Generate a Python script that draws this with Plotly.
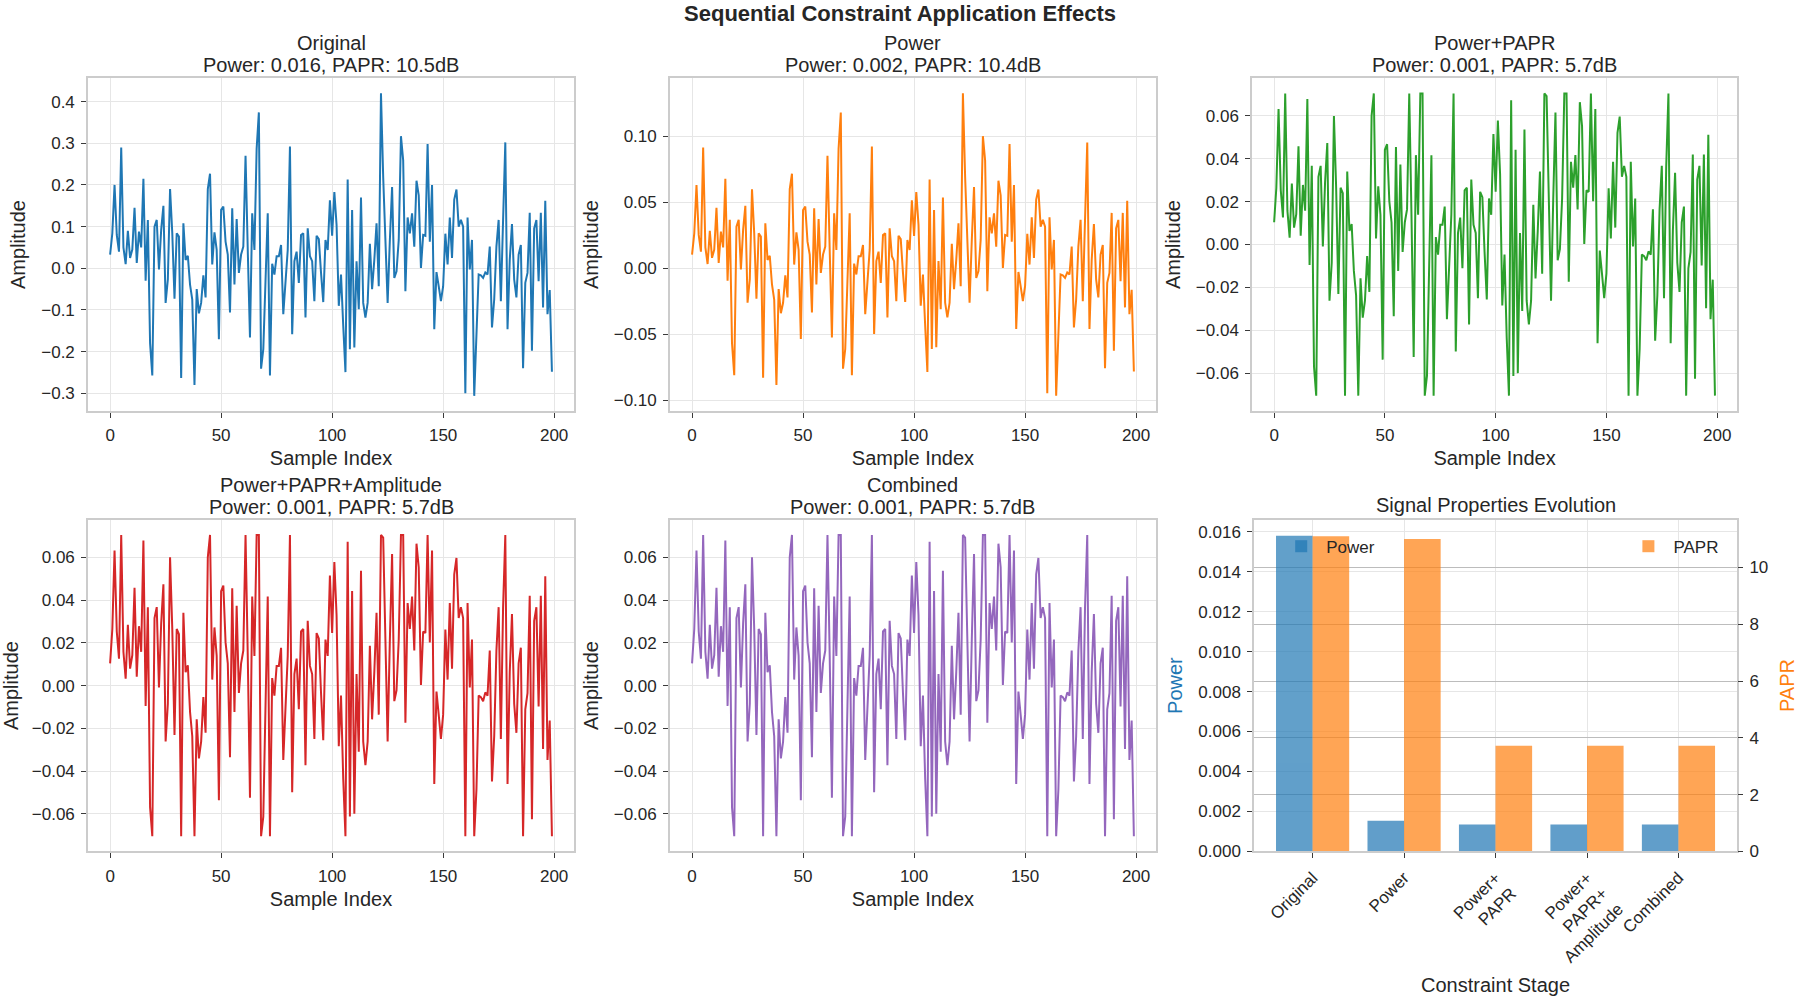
import plotly.graph_objects as go

FONT = "Liberation Sans, Arial, sans-serif"
TXT = "#262626"

# ---------------- data ----------------
sample_index = list(range(200))

original = [
    0.033, 0.084, 0.200, 0.080, 0.040, 0.290, 0.050, 0.010, 0.090, 0.025,
    0.045, 0.145, 0.013, 0.088, 0.050, 0.215, -0.030, 0.116, -0.180, -0.257,
    0.100, 0.116, -0.003, 0.092, 0.150, -0.083, -0.027, 0.190, 0.084, -0.073,
    0.084, 0.076, -0.263, 0.108, 0.020, 0.030, -0.039, -0.075, -0.280, -0.050,
    -0.108, -0.083, -0.017, -0.070, 0.190, 0.227, 0.009, 0.086, 0.044, -0.170,
    0.140, 0.148, 0.064, 0.033, -0.106, 0.144, -0.039, 0.118, -0.011, 0.033,
    0.052, 0.270, 0.044, -0.166, 0.132, 0.044, 0.287, 0.374, -0.241, -0.194,
    -0.030, 0.132, -0.257, 0.011, -0.015, 0.029, 0.029, 0.056, -0.110, -0.043,
    0.044, 0.292, -0.158, 0.017, 0.040, -0.035, 0.080, 0.084, -0.118, 0.096,
    0.029, 0.017, -0.079, 0.078, 0.070, -0.011, -0.081, 0.068, 0.044, 0.163,
    0.078, 0.183, 0.104, -0.090, -0.015, -0.138, -0.249, 0.213, -0.194, 0.140,
    -0.190, 0.017, -0.098, 0.170, -0.083, -0.118, -0.083, 0.059, -0.050, 0.020,
    0.108, -0.043, 0.420, 0.219, 0.068, -0.083, 0.068, 0.195, -0.023, -0.007,
    0.068, 0.317, 0.259, -0.055, 0.122, 0.084, 0.132, 0.052, 0.210, 0.175,
    0.001, 0.080, 0.078, 0.298, 0.064, 0.200, -0.146, -0.009, -0.043, -0.079,
    -0.043, 0.083, 0.009, 0.122, 0.025, 0.165, 0.189, 0.100, 0.116, 0.100,
    -0.300, 0.122, -0.003, 0.068, -0.306, -0.154, -0.015, -0.017, -0.023, -0.010,
    -0.015, 0.052, -0.142, -0.075, 0.052, 0.116, -0.079, 0.116, 0.302, -0.146,
    0.020, 0.106, -0.027, -0.070, 0.033, 0.056, -0.240, -0.035, -0.011, 0.133,
    -0.198, 0.096, 0.116, -0.031, 0.133, -0.094, 0.162, -0.110, -0.052, -0.248,
]

power_only = [
    0.0104, 0.0265, 0.0632, 0.0253, 0.0126, 0.0916, 0.0158, 0.0032, 0.0284, 0.0079,
    0.0142, 0.0458, 0.0041, 0.0278, 0.0158, 0.0679, -0.0095, 0.0367, -0.0569, -0.0812,
    0.0316, 0.0367, -0.0009, 0.0291, 0.0474, -0.0262, -0.0085, 0.0600, 0.0265, -0.0231,
    0.0265, 0.0240, -0.0831, 0.0341, 0.0063, 0.0095, -0.0123, -0.0237, -0.0885, -0.0158,
    -0.0341, -0.0262, -0.0054, -0.0221, 0.0600, 0.0717, 0.0028, 0.0272, 0.0139, -0.0537,
    0.0442, 0.0468, 0.0202, 0.0104, -0.0335, 0.0455, -0.0123, 0.0373, -0.0035, 0.0104,
    0.0164, 0.0853, 0.0139, -0.0525, 0.0417, 0.0139, 0.0907, 0.1182, -0.0762, -0.0613,
    -0.0095, 0.0417, -0.0812, 0.0035, -0.0047, 0.0092, 0.0092, 0.0177, -0.0348, -0.0136,
    0.0139, 0.0923, -0.0499, 0.0054, 0.0126, -0.0111, 0.0253, 0.0265, -0.0373, 0.0303,
    0.0092, 0.0054, -0.0250, 0.0246, 0.0221, -0.0035, -0.0256, 0.0215, 0.0139, 0.0515,
    0.0246, 0.0578, 0.0329, -0.0284, -0.0047, -0.0436, -0.0787, 0.0673, -0.0613, 0.0442,
    -0.0600, 0.0054, -0.0310, 0.0537, -0.0262, -0.0373, -0.0262, 0.0186, -0.0158, 0.0063,
    0.0341, -0.0136, 0.1327, 0.0692, 0.0215, -0.0262, 0.0215, 0.0616, -0.0073, -0.0022,
    0.0215, 0.1002, 0.0818, -0.0174, 0.0386, 0.0265, 0.0417, 0.0164, 0.0664, 0.0553,
    0.0003, 0.0253, 0.0246, 0.0942, 0.0202, 0.0632, -0.0461, -0.0028, -0.0136, -0.0250,
    -0.0136, 0.0262, 0.0028, 0.0386, 0.0079, 0.0521, 0.0597, 0.0316, 0.0367, 0.0316,
    -0.0948, 0.0386, -0.0009, 0.0215, -0.0967, -0.0487, -0.0047, -0.0054, -0.0073, -0.0032,
    -0.0047, 0.0164, -0.0449, -0.0237, 0.0164, 0.0367, -0.0250, 0.0367, 0.0954, -0.0461,
    0.0063, 0.0335, -0.0085, -0.0221, 0.0104, 0.0177, -0.0758, -0.0111, -0.0035, 0.0420,
    -0.0626, 0.0303, 0.0367, -0.0098, 0.0420, -0.0297, 0.0512, -0.0348, -0.0164, -0.0784,
]

constrained = [
    0.0104, 0.0265, 0.0632, 0.0253, 0.0126, 0.0705, 0.0158, 0.0032, 0.0284, 0.0079,
    0.0142, 0.0458, 0.0041, 0.0278, 0.0158, 0.0679, -0.0095, 0.0367, -0.0569, -0.0705,
    0.0316, 0.0367, -0.0009, 0.0291, 0.0474, -0.0262, -0.0085, 0.0600, 0.0265, -0.0231,
    0.0265, 0.0240, -0.0705, 0.0341, 0.0063, 0.0095, -0.0123, -0.0237, -0.0705, -0.0158,
    -0.0341, -0.0262, -0.0054, -0.0221, 0.0600, 0.0705, 0.0028, 0.0272, 0.0139, -0.0537,
    0.0442, 0.0468, 0.0202, 0.0104, -0.0335, 0.0455, -0.0123, 0.0373, -0.0035, 0.0104,
    0.0164, 0.0705, 0.0139, -0.0525, 0.0417, 0.0139, 0.0705, 0.0705, -0.0705, -0.0613,
    -0.0095, 0.0417, -0.0705, 0.0035, -0.0047, 0.0092, 0.0092, 0.0177, -0.0348, -0.0136,
    0.0139, 0.0705, -0.0499, 0.0054, 0.0126, -0.0111, 0.0253, 0.0265, -0.0373, 0.0303,
    0.0092, 0.0054, -0.0250, 0.0246, 0.0221, -0.0035, -0.0256, 0.0215, 0.0139, 0.0515,
    0.0246, 0.0578, 0.0329, -0.0284, -0.0047, -0.0436, -0.0705, 0.0673, -0.0613, 0.0442,
    -0.0600, 0.0054, -0.0310, 0.0537, -0.0262, -0.0373, -0.0262, 0.0186, -0.0158, 0.0063,
    0.0341, -0.0136, 0.0705, 0.0692, 0.0215, -0.0262, 0.0215, 0.0616, -0.0073, -0.0022,
    0.0215, 0.0705, 0.0705, -0.0174, 0.0386, 0.0265, 0.0417, 0.0164, 0.0664, 0.0553,
    0.0003, 0.0253, 0.0246, 0.0705, 0.0202, 0.0632, -0.0461, -0.0028, -0.0136, -0.0250,
    -0.0136, 0.0262, 0.0028, 0.0386, 0.0079, 0.0521, 0.0597, 0.0316, 0.0367, 0.0316,
    -0.0705, 0.0386, -0.0009, 0.0215, -0.0705, -0.0487, -0.0047, -0.0054, -0.0073, -0.0032,
    -0.0047, 0.0164, -0.0449, -0.0237, 0.0164, 0.0367, -0.0250, 0.0367, 0.0705, -0.0461,
    0.0063, 0.0335, -0.0085, -0.0221, 0.0104, 0.0177, -0.0705, -0.0111, -0.0035, 0.0420,
    -0.0626, 0.0303, 0.0367, -0.0098, 0.0420, -0.0297, 0.0512, -0.0348, -0.0164, -0.0705,
]

panel_names = ["Original", "Power", "Power+PAPR", "Power+PAPR+Amplitude", "Combined"]
panel_power = ["0.016", "0.002", "0.001", "0.001", "0.001"]
panel_papr_db = ["10.5", "10.4", "5.7", "5.7", "5.7"]
panel_series = [original, power_only, constrained, constrained, constrained]
panel_colors = ["#1f77b4", "#ff7f0e", "#2ca02c", "#d62728", "#9467bd"]

stage_labels = ["Original", "Power", "Power+<br>PAPR", "Power+<br>PAPR+<br>Amplitude", "Combined"]
stage_power = [0.0158, 0.00154, 0.00135, 0.00135, 0.00135]
stage_papr = [11.1, 11.0, 3.72, 3.72, 3.72]

# ---------------- layout geometry ----------------
col_x = [(0.0489, 0.3189), (0.3722, 0.6422), (0.6956, 0.9650)]
row_y = [(0.585, 0.921), (0.140, 0.475)]
bar_x = (0.6967, 0.9650)
y_ranges = [(-0.342, 0.456), (-0.1082, 0.1442), (-0.0776, 0.0776), (-0.0776, 0.0776), (-0.0776, 0.0776)]
y_dticks = [0.1, 0.05, 0.02, 0.02, 0.02]
y_formats = [".1f", ".2f", ".2f", ".2f", ".2f"]
panel_cells = [(0, 0), (0, 1), (0, 2), (1, 0), (1, 1)]


def base_axis():
    return dict(
        showline=True, mirror=True, linecolor="#cccccc", linewidth=1.6,
        showgrid=True, gridcolor="#e6e6e6", gridwidth=1,
        ticks="outside", ticklen=5, tickwidth=1.3, tickcolor="#3a3a3a",
        tickfont=dict(size=17, color=TXT, family=FONT), zeroline=False,
        ticklabelstandoff=3,
    )


fig = go.Figure()
layout = dict()
annotations = []

for k, (name, pw, pdb, ser, col) in enumerate(
        zip(panel_names, panel_power, panel_papr_db, panel_series, panel_colors)):
    r, c = panel_cells[k]
    idx = k + 1
    xa = "x" if idx == 1 else f"x{idx}"
    ya = "y" if idx == 1 else f"y{idx}"
    fig.add_trace(go.Scatter(x=sample_index, y=ser, mode="lines",
                             line=dict(color=col, width=2), xaxis=xa, yaxis=ya,
                             showlegend=False))
    xax = base_axis()
    xax.update(domain=list(col_x[c]), anchor=ya, range=[-9.95, 208.95],
               tick0=0, dtick=50,
               title=dict(text="Sample Index", font=dict(size=20, color=TXT, family=FONT), standoff=7))
    yax = base_axis()
    yax.update(domain=list(row_y[r]), anchor=xa, range=list(y_ranges[k]),
               dtick=y_dticks[k], tickformat=y_formats[k],
               title=dict(text="Amplitude", font=dict(size=20, color=TXT, family=FONT), standoff=10))
    layout["xaxis" if idx == 1 else f"xaxis{idx}"] = xax
    layout["yaxis" if idx == 1 else f"yaxis{idx}"] = yax
    cx = (col_x[c][0] + col_x[c][1]) / 2
    top = row_y[r][1]
    annotations.append(dict(text=name, x=cx, y=top, xref="paper", yref="paper",
                            xanchor="center", yanchor="middle", yshift=35, showarrow=False,
                            font=dict(size=20, color=TXT, family=FONT)))
    annotations.append(dict(text=f"Power: {pw}, PAPR: {pdb}dB", x=cx, y=top, xref="paper",
                            yref="paper", xanchor="center", yanchor="middle", yshift=13,
                            showarrow=False, font=dict(size=20, color=TXT, family=FONT)))

# ---------------- bar chart ----------------
fig.add_trace(go.Bar(x=stage_labels, y=stage_power, name="Power", marker=dict(color="#1f77b4", line=dict(width=0)),
                     opacity=0.7, width=0.4, offset=-0.4, xaxis="x6", yaxis="y6", legend="legend"))
fig.add_trace(go.Bar(x=stage_labels, y=stage_papr, name="PAPR", marker=dict(color="#ff7f0e", line=dict(width=0)),
                     opacity=0.7, width=0.4, offset=0.0, xaxis="x6", yaxis="y7", legend="legend2"))

x6 = base_axis()
x6.update(domain=list(bar_x), anchor="y6", type="category", range=[-0.64, 4.64],
          tickangle=-45,
          title=dict(text="Constraint Stage", font=dict(size=20, color=TXT, family=FONT), standoff=12))
y6 = base_axis()
y6.update(domain=list(row_y[1]), anchor="x6", range=[0, 0.0166], dtick=0.002, tickformat=".3f",
          title=dict(text="Power", font=dict(size=20, color="#1f77b4", family=FONT), standoff=10))
y7 = base_axis()
y7.update(overlaying="y6", side="right", anchor="x6", range=[0, 11.68], dtick=2,
          gridcolor="#bdbdbd", gridwidth=1.2, showline=False,
          title=dict(text="PAPR", font=dict(size=20, color="#ff7f0e", family=FONT), standoff=12))
layout["xaxis6"] = x6
layout["yaxis6"] = y6
layout["yaxis7"] = y7

bx = (bar_x[0] + bar_x[1]) / 2
annotations.append(dict(text="Signal Properties Evolution", x=bx, y=row_y[1][1], xref="paper",
                        yref="paper", xanchor="center", yanchor="middle", yshift=15,
                        showarrow=False, font=dict(size=20, color=TXT, family=FONT)))

fig.update_layout(
    **layout,
    annotations=annotations,
    width=1800, height=1000,
    margin=dict(l=0, r=0, t=0, b=0),
    paper_bgcolor="white", plot_bgcolor="white",
    font=dict(family=FONT, color=TXT),
    barmode="overlay",
    title=dict(text="<b>Sequential Constraint Application Effects</b>", x=0.5, y=0.987,
               xanchor="center", yanchor="middle", font=dict(size=22, color=TXT, family=FONT)),
    legend=dict(x=0.709, y=0.466, xanchor="left", yanchor="top", bgcolor="rgba(0,0,0,0)",
                itemwidth=40, font=dict(size=17, color=TXT, family=FONT)),
    legend2=dict(x=0.958, y=0.466, xanchor="right", yanchor="top", bgcolor="rgba(0,0,0,0)",
                 itemwidth=40, font=dict(size=17, color=TXT, family=FONT)),
)

fig.write_html("out.html")
